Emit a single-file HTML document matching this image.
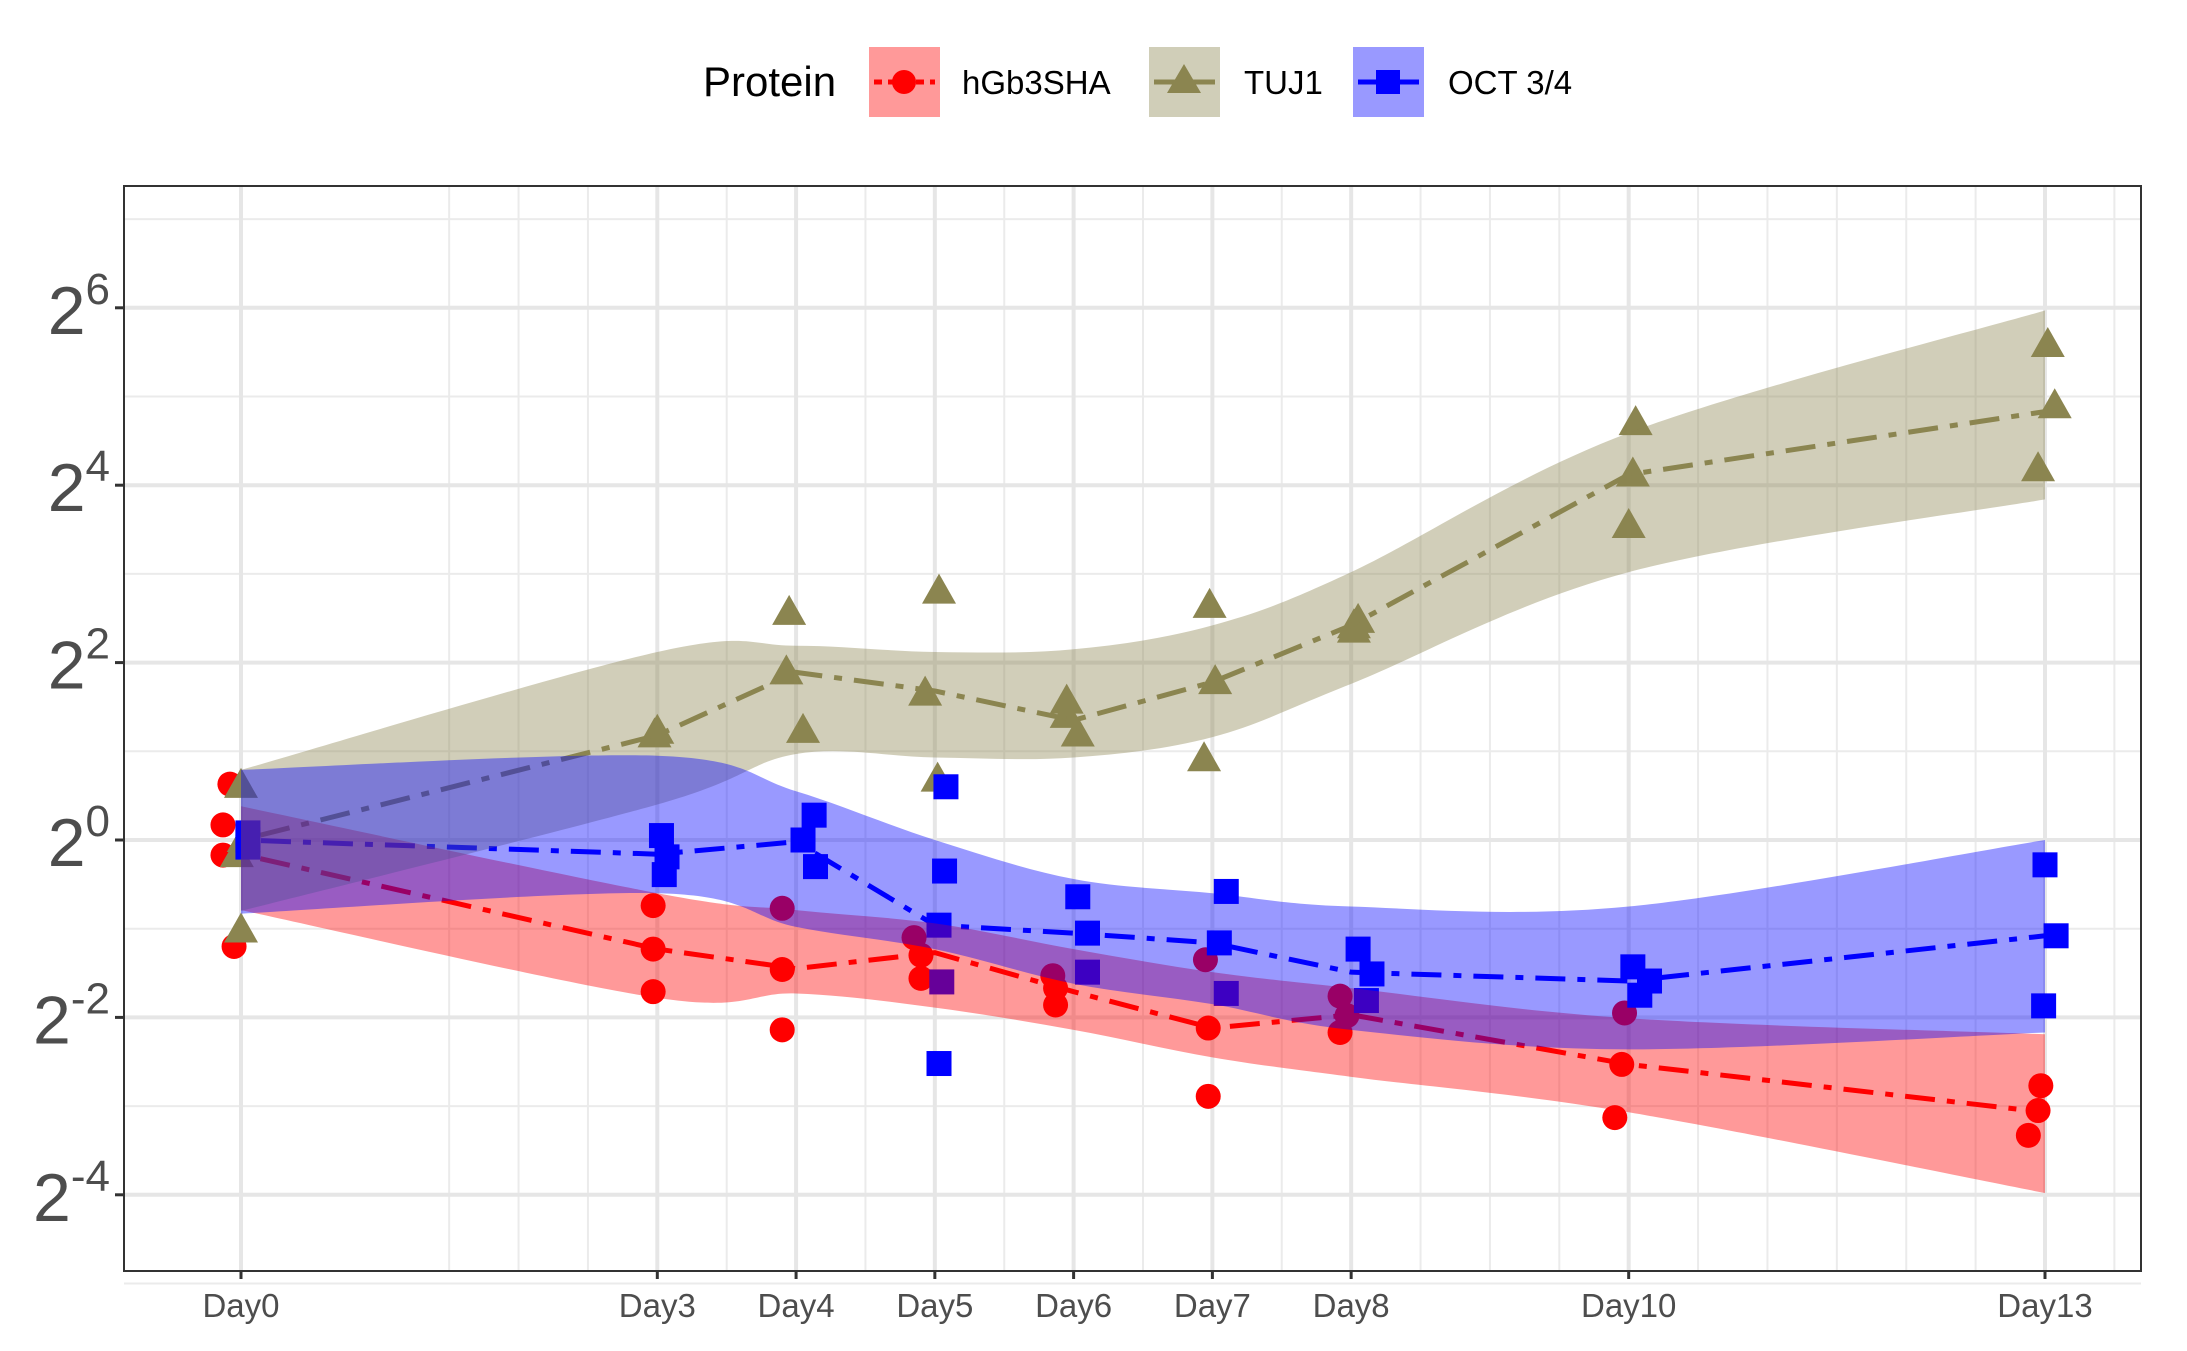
<!DOCTYPE html>
<html><head><meta charset="utf-8"><style>
html,body{margin:0;padding:0;background:#fff;}
svg{display:block;font-family:"Liberation Sans",sans-serif;}
</style></head><body>
<svg id="chart" width="2187" height="1351" viewBox="0 0 2187 1351" xmlns="http://www.w3.org/2000/svg">
<rect x="0" y="0" width="2187" height="1351" fill="#fff"/>
<g id="grid"></g>
<g id="ribbons-under"></g>
<rect x="124" y="186" width="2017" height="1085" fill="none" stroke="#333" stroke-width="2"/>
<g id="axes"></g>
<g>
  <text x="703" y="96" font-size="42" fill="#000">Protein</text>
  <g>
    <rect x="869" y="47" width="71" height="70" fill="#ff9999"/>
    <line x1="874" y1="82" x2="935" y2="82" stroke="#f00" stroke-width="5" stroke-dasharray="8,6,22,6"/>
    <circle cx="904" cy="82" r="12" fill="#f00"/>
    <text x="962" y="94" font-size="33" fill="#000">hGb3SHA</text>
  </g>
  <g>
    <rect x="1149" y="47" width="71" height="70" fill="#d0ceb8"/>
    <line x1="1154" y1="82" x2="1215" y2="82" stroke="#8b8550" stroke-width="5"/>
    <polygon points="1184,64 1201,93 1167,93" fill="#8b8550"/>
    <text x="1244" y="94" font-size="33" fill="#000">TUJ1</text>
  </g>
  <g>
    <rect x="1353" y="47" width="71" height="70" fill="#9999ff"/>
    <line x1="1358" y1="82" x2="1419" y2="82" stroke="#00f" stroke-width="5"/>
    <rect x="1376" y="70" width="24" height="24" fill="#00f"/>
    <text x="1448" y="94" font-size="33" fill="#000">OCT 3/4</text>
  </g>
</g>
</svg>
<script>
// ---- data ----
const days = [0,3,4,5,6,7,8,10,13];
const dayLabels = ["Day0","Day3","Day4","Day5","Day6","Day7","Day8","Day10","Day13"];
const yTicks = [6,4,2,0,-2,-4];
const yTickLabels = ["6","4","2","0","-2","-4"];

const redMean = [-0.16,-1.23,-1.45,-1.27,-1.71,-2.12,-1.97,-2.53,-3.07];
const redUpper = [0.38,-0.6,-0.79,-0.94,-1.23,-1.49,-1.67,-2.01,-2.19];
const redLower = [-0.79,-1.78,-1.73,-1.89,-2.14,-2.45,-2.67,-3.07,-3.98];
const redPtX = [0,0,0,0, 3,3,3, 4,4,4, 5,5,5, 6,6,6, 7,7,7, 8,8,8, 10,10,10, 13,13,13];
const redJit = [-0.08,-0.13,-0.13,-0.05, -0.03,-0.03,-0.03, -0.1,-0.1,-0.1, -0.15,-0.1,-0.1, -0.15,-0.13,-0.13, -0.05,-0.03,-0.03, -0.08,-0.03,-0.08, -0.03,-0.05,-0.1, -0.03,-0.05,-0.12];
const redPtVal = [0.63,0.17,-0.17,-1.2, -0.74,-1.23,-1.71, -0.77,-1.46,-2.14, -1.1,-1.3,-1.56, -1.53,-1.67,-1.86, -1.35,-2.12,-2.89, -1.76,-1.98,-2.17, -1.95,-2.53,-3.13, -2.77,-3.05,-3.33];

const tujMean = [0,1.18,1.89,1.68,1.35,1.78,2.42,4.12,4.83];
const tujUpper = [0.79,2.12,2.19,2.12,2.15,2.42,3.02,4.59,5.97];
const tujLower = [-0.8,0.4,0.97,0.93,0.93,1.16,1.76,3.02,3.84];
const tujPtX = [0,0,0,0, 3,3, 4,4,4, 5,5,5, 6,6,6, 7,7,7, 8,8,8, 10,10,10, 13,13,13];
const tujJit = [0,0.02,-0.03,0, -0.02,0, -0.05,-0.07,0.05, 0.03,-0.07,0.02, -0.05,-0.05,0.03, -0.02,0.02,-0.06, 0.05,0.02,0.02, 0.05,0.03,0, 0.02,0.07,-0.05];
const tujPtVal = [0.61,0,-0.17,-1.02, 1.18,1.22, 2.56,1.89,1.23, 2.8,1.65,0.68, 1.56,1.4,1.19, 2.64,1.78,0.91, 2.47,2.41,2.36, 4.7,4.12,3.54, 5.58,4.89,4.18];

const octMean = [0,-0.16,-0.02,-0.96,-1.05,-1.16,-1.49,-1.59,-1.08];
const octUpper = [0.79,0.95,0.55,0.0,-0.44,-0.6,-0.75,-0.75,0.0];
const octLower = [-0.83,-0.6,-0.98,-1.23,-1.62,-1.85,-2.14,-2.36,-2.17];
const octPtX = [0,0,0, 3,3,3, 4,4,4, 5,5,5,5,5, 6,6,6, 7,7,7, 8,8,8, 10,10,10, 13,13,13];
const octJit = [0.05,0.05,0.05, 0.03,0.07,0.05, 0.13,0.05,0.14, 0.08,0.07,0.03,0.05,0.03, 0.03,0.1,0.1, 0.1,0.05,0.1, 0.05,0.15,0.11, 0.03,0.15,0.08, 0.0,0.08,-0.01];
const octPtVal = [0.08,0,-0.08, 0.05,-0.19,-0.39, 0.28,0,-0.3, 0.6,-0.35,-0.96,-1.6,-2.52, -0.64,-1.05,-1.49, -0.58,-1.16,-1.73, -1.23,-1.51,-1.81, -1.43,-1.59,-1.75, -0.28,-1.08,-1.87];

// ---- scales ----
const X0=124,X1=2141,Y0=186,Y1=1271;
function xs(d){return 241 + d*(2045-241)/13;}
function ys(e){return 840 - e*88.7;}
const NS="http://www.w3.org/2000/svg";
function mk(tag,attrs,parent){const e=document.createElementNS(NS,tag);for(const k in attrs)e.setAttribute(k,attrs[k]);parent.appendChild(e);return e;}

const grid=document.getElementById('grid');
for(let d=1.5; d<=13.5; d+=0.5){
  if(days.includes(d)) continue;
  const l=mk('line',{x1:xs(d),x2:xs(d),y1:Y0,y2:Y1,stroke:'#ebebeb','stroke-width':2},grid);
  
  
}
for(let e=-5;e<=7;e+=2){
  const l=mk('line',{x1:X0,x2:X1,y1:ys(e),y2:ys(e),stroke:'#ebebeb','stroke-width':2},grid);
  
  
}
days.forEach(d=>{
  const l=mk('line',{x1:xs(d),x2:xs(d),y1:Y0,y2:Y1,stroke:'#e6e6e6','stroke-width':4},grid);
  
  
});
yTicks.forEach(e=>{
  const l=mk('line',{x1:X0,x2:X1,y1:ys(e),y2:ys(e),stroke:'#e6e6e6','stroke-width':4},grid);
  
  
});

const axes=document.getElementById('axes');
days.forEach((d,i)=>{
  const t=mk('line',{x1:xs(d),x2:xs(d),y1:Y1,y2:Y1+8,stroke:'#333','stroke-width':3},axes);
  
  
  const tx=mk('text',{x:xs(d),y:Y1+46,'font-size':33,fill:'#4d4d4d','text-anchor':'middle'},axes);
  tx.textContent=dayLabels[i];
  
  
});
yTicks.forEach((e,i)=>{
  const t=mk('line',{x1:X0-9,x2:X0,y1:ys(e),y2:ys(e),stroke:'#333','stroke-width':3},axes);
  
  
  const tx=mk('text',{x:X0-14,y:ys(e)+26,'font-size':68,fill:'#4d4d4d','text-anchor':'end'},axes);
  
  
  const b=document.createElementNS(NS,'tspan'); b.textContent='2'; tx.appendChild(b);
  const s=document.createElementNS(NS,'tspan'); s.setAttribute('font-size','44'); s.setAttribute('dy','-30'); s.textContent=yTickLabels[i]; tx.appendChild(s);
});

function smooth(pts){
  let d='';
  for(let i=0;i<pts.length-1;i++){
    const p0=pts[Math.max(0,i-1)],p1=pts[i],p2=pts[i+1],p3=pts[Math.min(pts.length-1,i+2)];
    const c1=[p1[0]+(p2[0]-p0[0])/6,p1[1]+(p2[1]-p0[1])/6];
    const c2=[p2[0]-(p3[0]-p1[0])/6,p2[1]-(p3[1]-p1[1])/6];
    d+=(i===0?'M'+p1[0]+','+p1[1]:'')+' C'+c1+' '+c2+' '+p2;
  }
  return d;
}
function ribbonPath(up,lo){
  const u=days.map((d,i)=>[xs(d),ys(up[i])]);
  const l=days.map((d,i)=>[xs(d),ys(lo[i])]).reverse();
  return smooth(u)+' L'+l[0]+' '+smooth(l).slice(1)+' Z';
}
const layer=document.getElementById('ribbons-under');
const series=[
 {name:'hgb3sha',col:'#ff0000',mean:redMean,up:redUpper,lo:redLower,px:redPtX,pj:redJit,pv:redPtVal,shape:'circle'},
 {name:'tuj1',col:'#8b8550',mean:tujMean,up:tujUpper,lo:tujLower,px:tujPtX,pj:tujJit,pv:tujPtVal,shape:'tri'},
 {name:'oct34',col:'#0000ff',mean:octMean,up:octUpper,lo:octLower,px:octPtX,pj:octJit,pv:octPtVal,shape:'square'}
];
series.forEach(s=>{
  const g=mk('g',{},layer);
  
  
  s.pv.forEach((v,i)=>{
    const cx=xs(s.px[i]+s.pj[i]), cy=ys(v);
    let m;
    if(s.shape==='circle') m=mk('circle',{cx:cx,cy:cy,r:12.5,fill:s.col},g);
    else if(s.shape==='tri') m=mk('polygon',{points:`${cx},${cy-18} ${cx+17},${cy+12} ${cx-17},${cy+12}`,fill:s.col},g);
    else m=mk('rect',{x:cx-12.5,y:cy-12.5,width:25,height:25,fill:s.col},g);
    
    
  });
  const ln=mk('polyline',{points:days.map((d,i)=>xs(d)+','+ys(s.mean[i])).join(' '),fill:'none',stroke:s.col,'stroke-width':5,'stroke-dasharray':'8,12,30,12'},layer);
  
  
});
series.forEach(s=>{
  const r=mk('path',{d:ribbonPath(s.up,s.lo),fill:s.col,'fill-opacity':0.4,stroke:'none'},layer);
  
  
});
</script>
</body></html>
